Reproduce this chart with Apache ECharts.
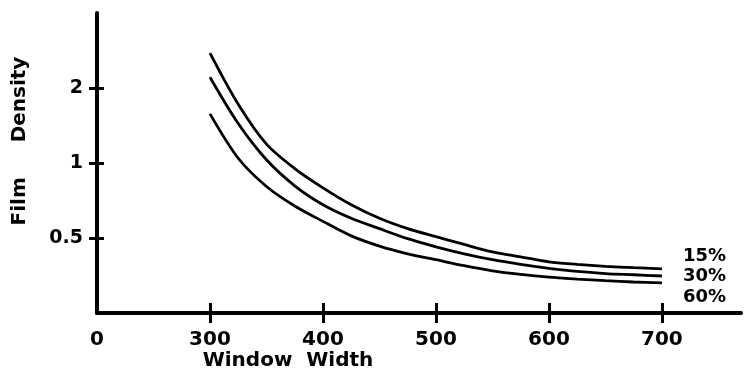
<!DOCTYPE html>
<html>
<head>
<meta charset="utf-8">
<script src="https://cdn.jsdelivr.net/npm/echarts@6/dist/echarts.min.js"></script>
<style>html,body{margin:0;padding:0;background:#fff;}#c{width:744px;height:376px;}</style>
</head>
<body>
<div id="c"></div>
<script>
// Window width values (x)
const windowWidth = [300, 325, 350, 375, 400, 425, 450, 475, 500, 525, 550, 575, 600, 625, 650, 675, 700];
// Film density for each contrast setting
const density15 = [2.76, 1.72, 1.19, 0.95, 0.795, 0.68, 0.60, 0.545, 0.506, 0.471, 0.440, 0.42, 0.401, 0.392, 0.385, 0.38, 0.376];
const density30 = [2.21, 1.44, 1.03, 0.81, 0.68, 0.60, 0.545, 0.497, 0.461, 0.432, 0.409, 0.392, 0.378, 0.367, 0.360, 0.356, 0.352];
const density60 = [1.575, 1.045, 0.805, 0.672, 0.583, 0.51, 0.464, 0.432, 0.409, 0.387, 0.369, 0.357, 0.348, 0.342, 0.337, 0.333, 0.330];
const seriesNames = ['15%', '30%', '60%'];
// Axis ticks / labels
const xTickValues = [300, 400, 500, 600, 700];
const xLabelValues = [200, 300, 400, 500, 600, 700];
const xLabelText = {200: '0', 300: '300', 400: '400', 500: '500', 600: '600', 700: '700'};
const yTickValues = [0.5, 1, 2];
const yLabelText = {0.5: '0.5', 1: '1', 2: '2'};

const FONT = 'DejaVu Sans';
const chart = echarts.init(document.getElementById('c'), null, {renderer: 'canvas'});

function pairs(ys) { return windowWidth.map((x, i) => [x, ys[i]]); }

const labelOffsets = [[13, -13], [13, 0], [13, 14]];
const allData = [density15, density30, density60];

const xBase = {
  type: 'value', min: 200, max: 770, position: 'bottom',
  splitLine: {show: false}
};
const yBase = {
  type: 'log', logBase: 2, min: 0.25, max: 4, position: 'left',
  splitLine: {show: false}, minorTick: {show: false}
};

chart.setOption({
  animation: false,
  backgroundColor: '#fff',
  grid: {left: 97, right: 3, top: 13, bottom: 63, containLabel: false, outerBoundsMode: 'none'},
  xAxis: [
    Object.assign({}, xBase, {
      name: 'Window  Width',
      nameLocation: 'middle',
      nameGap: 38,
      nameMoveOverlap: false,
      nameTextStyle: {fontFamily: FONT, fontWeight: 'bold', fontSize: 20, color: '#000', padding: [0, 262, 0, 0]},
      axisLine: {show: true, lineStyle: {color: '#000', width: 4}},
      axisTick: {show: true, inside: false, length: 10, lineStyle: {color: '#000', width: 3}, customValues: xTickValues},
      axisLabel: {show: true, margin: 17, fontFamily: FONT, fontWeight: 'bold', fontSize: 20, color: '#000',
        customValues: xLabelValues, formatter: v => xLabelText[v] !== undefined ? xLabelText[v] : ''}
    }),
    Object.assign({}, xBase, {
      axisLine: {show: false},
      axisTick: {show: true, inside: true, length: 10, lineStyle: {color: '#000', width: 3}, customValues: xTickValues},
      axisLabel: {show: false}
    })
  ],
  yAxis: [
    Object.assign({}, yBase, {
      name: 'Film     Density',
      nameLocation: 'middle',
      nameRotate: 90,
      nameGap: 67,
      nameMoveOverlap: false,
      nameTextStyle: {fontFamily: FONT, fontWeight: 'bold', fontSize: 20, color: '#000', padding: [0, 0, 0, 44]},
      axisLine: {show: true, lineStyle: {color: '#000', width: 4}},
      axisTick: {show: true, inside: false, length: 8, lineStyle: {color: '#000', width: 3}, customValues: yTickValues},
      axisLabel: {show: true, margin: 14, fontFamily: FONT, fontWeight: 'bold', fontSize: 19, color: '#000',
        padding: [6, 0, 0, 0],
        customValues: yTickValues, formatter: v => yLabelText[v] !== undefined ? yLabelText[v] : ''}
    }),
    Object.assign({}, yBase, {
      axisLine: {show: false},
      axisTick: {show: true, inside: true, length: 7, lineStyle: {color: '#000', width: 3}, customValues: yTickValues},
      axisLabel: {show: false}
    })
  ],
  series: seriesNames.map((name, i) => ({
    name: name,
    type: 'line',
    xAxisIndex: 0,
    yAxisIndex: 0,
    data: pairs(allData[i]),
    smooth: 0.3,
    showSymbol: false,
    symbol: 'none',
    lineStyle: {color: '#000', width: 2.8},
    endLabel: {
      show: true,
      formatter: '{a}',
      offset: labelOffsets[i],
      fontFamily: FONT, fontWeight: 'bold', fontSize: 18, color: '#000'
    }
  }))
});
</script>
</body>
</html>
